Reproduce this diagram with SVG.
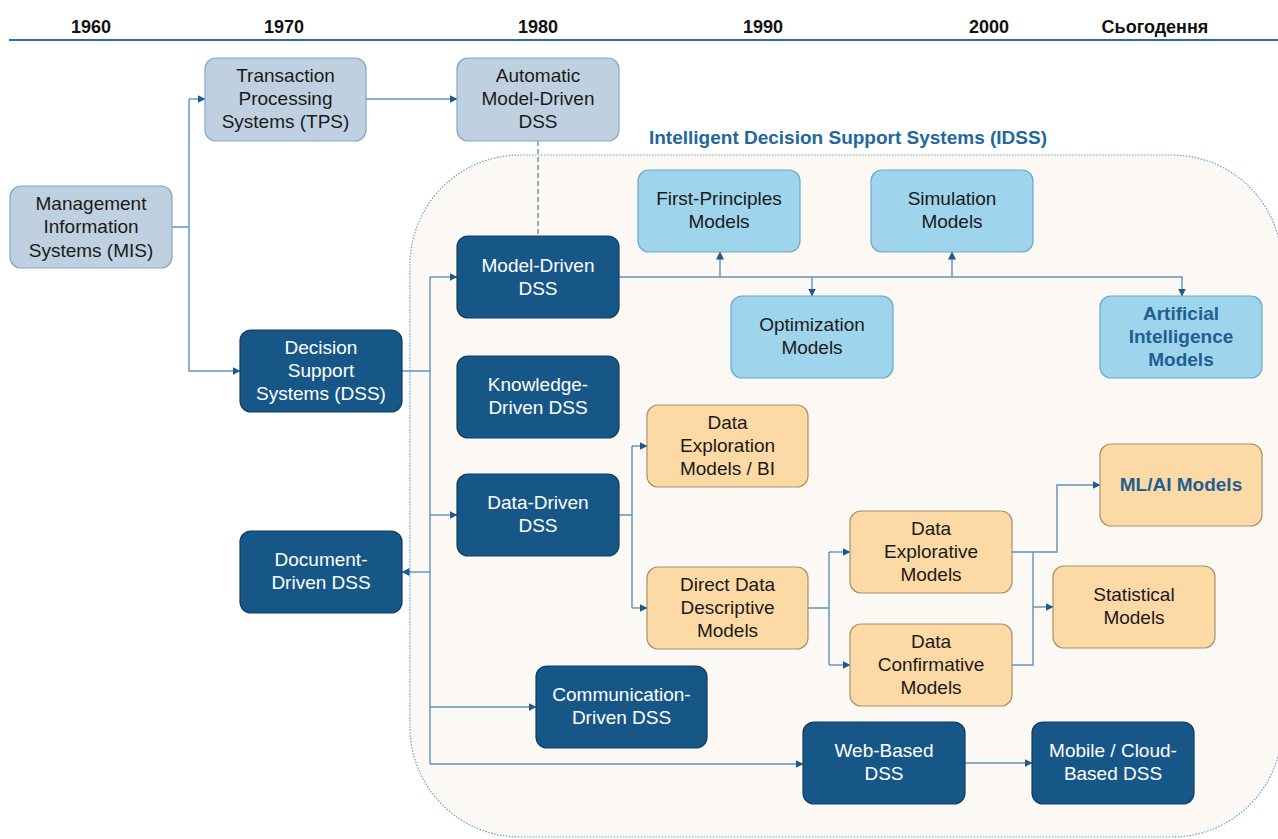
<svg xmlns="http://www.w3.org/2000/svg" width="1278" height="839" viewBox="0 0 1278 839">
  <style>
    text { font-family: "Liberation Sans", Arial, sans-serif; font-size: 19px; text-anchor: middle; }
    .year { font-size: 18px; font-weight: bold; fill: #111; }
    .title { font-weight: bold; fill: #23679d; }
    .grey rect { fill: #bfd1e0; stroke: #80a7c9; stroke-width: 1.2; }
    .grey text { fill: #1a1a1a; }
    .dark rect { fill: #175788; stroke: #0f3c62; stroke-width: 1.2; }
    .dark text { fill: #ffffff; }
    .sky rect { fill: #9ed4ec; stroke: #6aa8cf; stroke-width: 1.2; }
    .sky text { fill: #1a1a1a; }
    .sand rect { fill: #fdd9a5; stroke: #a8916f; stroke-width: 1.2; }
    .sand text { fill: #1a1a1a; }
    .accent { fill: #1f5f93 !important; font-weight: bold; }
    .link { fill: none; stroke: #5e92c0; stroke-width: 1.4; }
    .arrow { marker-end: url(#tip); }
  </style>
  <defs>
    <marker id="tip" markerUnits="userSpaceOnUse" markerWidth="8" markerHeight="8" refX="7.5" refY="4" orient="auto">
      <path d="M0,0 L8,4 L0,8 z" fill="#1f5a8c"/>
    </marker>
  </defs>

  <rect width="1278" height="839" fill="#ffffff"/>

  <!-- timeline -->
  <g id="timeline">
    <line x1="9" y1="40" x2="1278" y2="40" stroke="#2e6ca4" stroke-width="2"/>
    <text class="year" x="91" y="33">1960</text>
    <text class="year" x="284" y="33">1970</text>
    <text class="year" x="538" y="33">1980</text>
    <text class="year" x="763" y="33">1990</text>
    <text class="year" x="989" y="33">2000</text>
    <text class="year" x="1155" y="33">Сьогодення</text>
  </g>

  <!-- IDSS area -->
  <g id="idss">
    <rect x="410" y="155" width="872" height="682" rx="110" ry="110" fill="#fcf9f4" stroke="#6f9ec6" stroke-width="1.2" stroke-dasharray="1.5,1.5"/>
    <text class="title" x="848" y="144">Intelligent Decision Support Systems (IDSS)</text>
  </g>

  <!-- connectors -->
  <g id="connectors">
    <path class="link" d="M172,227 H189 V99"/>
    <path class="link arrow" d="M189,99 H205"/>
    <path class="link arrow" d="M189,227 V371 H240"/>
    <path class="link arrow" d="M366,99 H457"/>
    <path class="link" d="M538,141 V236" stroke-dasharray="5,3"/>

    <path class="link" d="M402,371 H430 M430,277 V764"/>
    <path class="link arrow" d="M430,277 H457"/>
    <path class="link arrow" d="M430,515 H457"/>
    <path class="link arrow" d="M430,572 H402"/>
    <path class="link arrow" d="M430,707 H536"/>
    <path class="link arrow" d="M430,764 H803"/>

    <path class="link arrow" d="M619,277 H1182 V296"/>
    <path class="link arrow" d="M720,277 V252"/>
    <path class="link arrow" d="M812,277 V296"/>
    <path class="link arrow" d="M952,277 V252"/>

    <path class="link" d="M619,515 H632 M632,446 V608"/>
    <path class="link arrow" d="M632,446 H647"/>
    <path class="link arrow" d="M632,608 H647"/>

    <path class="link" d="M808,608 H829 M829,552 V665"/>
    <path class="link arrow" d="M829,552 H850"/>
    <path class="link arrow" d="M829,665 H850"/>

    <path class="link arrow" d="M1012,552 H1057 V485 H1100"/>
    <path class="link" d="M1012,665 H1033 V552"/>
    <path class="link arrow" d="M1033,607 H1053"/>

    <path class="link arrow" d="M965,763 H1032"/>
  </g>

  <!-- legacy systems -->
  <g id="mis" class="grey">
    <rect x="10" y="186" width="162" height="82" rx="11"/>
    <text x="91" y="210">Management</text>
    <text x="91" y="233">Information</text>
    <text x="91" y="257">Systems (MIS)</text>
  </g>
  <g id="tps" class="grey">
    <rect x="205" y="58" width="161" height="83" rx="11"/>
    <text x="285.5" y="82">Transaction</text>
    <text x="285.5" y="105">Processing</text>
    <text x="285.5" y="128">Systems (TPS)</text>
  </g>
  <g id="auto-model-driven" class="grey">
    <rect x="457" y="58" width="162" height="83" rx="11"/>
    <text x="538" y="82">Automatic</text>
    <text x="538" y="105">Model-Driven</text>
    <text x="538" y="128">DSS</text>
  </g>

  <!-- DSS family -->
  <g id="dss" class="dark">
    <rect x="240" y="330" width="162" height="82" rx="11"/>
    <text x="321" y="354">Decision</text>
    <text x="321" y="377">Support</text>
    <text x="321" y="400">Systems (DSS)</text>
  </g>
  <g id="model-driven" class="dark">
    <rect x="457" y="236" width="162" height="82" rx="11"/>
    <text x="538" y="272">Model-Driven</text>
    <text x="538" y="295">DSS</text>
  </g>
  <g id="knowledge-driven" class="dark">
    <rect x="457" y="356" width="162" height="82" rx="11"/>
    <text x="538" y="391">Knowledge-</text>
    <text x="538" y="414">Driven DSS</text>
  </g>
  <g id="data-driven" class="dark">
    <rect x="457" y="474" width="162" height="82" rx="11"/>
    <text x="538" y="509">Data-Driven</text>
    <text x="538" y="532">DSS</text>
  </g>
  <g id="document-driven" class="dark">
    <rect x="240" y="531" width="162" height="82" rx="11"/>
    <text x="321" y="566">Document-</text>
    <text x="321" y="589">Driven DSS</text>
  </g>
  <g id="communication-driven" class="dark">
    <rect x="536" y="666" width="171" height="82" rx="11"/>
    <text x="621.5" y="701">Communication-</text>
    <text x="621.5" y="724">Driven DSS</text>
  </g>
  <g id="web-based" class="dark">
    <rect x="803" y="722" width="162" height="82" rx="11"/>
    <text x="884" y="757">Web-Based</text>
    <text x="884" y="780">DSS</text>
  </g>
  <g id="mobile-cloud" class="dark">
    <rect x="1032" y="722" width="162" height="82" rx="11"/>
    <text x="1113" y="757">Mobile / Cloud-</text>
    <text x="1113" y="780">Based DSS</text>
  </g>

  <!-- model-driven branches -->
  <g id="first-principles" class="sky">
    <rect x="638" y="170" width="162" height="82" rx="11"/>
    <text x="719" y="205">First-Principles</text>
    <text x="719" y="228">Models</text>
  </g>
  <g id="simulation" class="sky">
    <rect x="871" y="170" width="162" height="82" rx="11"/>
    <text x="952" y="205">Simulation</text>
    <text x="952" y="228">Models</text>
  </g>
  <g id="optimization" class="sky">
    <rect x="731" y="296" width="162" height="82" rx="11"/>
    <text x="812" y="331">Optimization</text>
    <text x="812" y="354">Models</text>
  </g>
  <g id="ai-models" class="sky">
    <rect x="1100" y="296" width="162" height="82" rx="11"/>
    <text class="accent" x="1181" y="320">Artificial</text>
    <text class="accent" x="1181" y="343">Intelligence</text>
    <text class="accent" x="1181" y="366">Models</text>
  </g>

  <!-- data-driven branches -->
  <g id="data-exploration" class="sand">
    <rect x="647" y="405" width="161" height="82" rx="11"/>
    <text x="727.5" y="429">Data</text>
    <text x="727.5" y="452">Exploration</text>
    <text x="727.5" y="475">Models / BI</text>
  </g>
  <g id="direct-data" class="sand">
    <rect x="647" y="567" width="161" height="82" rx="11"/>
    <text x="727.5" y="591">Direct Data</text>
    <text x="727.5" y="614">Descriptive</text>
    <text x="727.5" y="637">Models</text>
  </g>
  <g id="data-explorative" class="sand">
    <rect x="850" y="511" width="162" height="82" rx="11"/>
    <text x="931" y="535">Data</text>
    <text x="931" y="558">Explorative</text>
    <text x="931" y="581">Models</text>
  </g>
  <g id="data-confirmative" class="sand">
    <rect x="850" y="624" width="162" height="82" rx="11"/>
    <text x="931" y="648">Data</text>
    <text x="931" y="671">Confirmative</text>
    <text x="931" y="694">Models</text>
  </g>
  <g id="ml-ai" class="sand">
    <rect x="1100" y="444" width="162" height="82" rx="11"/>
    <text class="accent" x="1181" y="491">ML/AI Models</text>
  </g>
  <g id="statistical" class="sand">
    <rect x="1053" y="566" width="162" height="82" rx="11"/>
    <text x="1134" y="601">Statistical</text>
    <text x="1134" y="624">Models</text>
  </g>
</svg>
